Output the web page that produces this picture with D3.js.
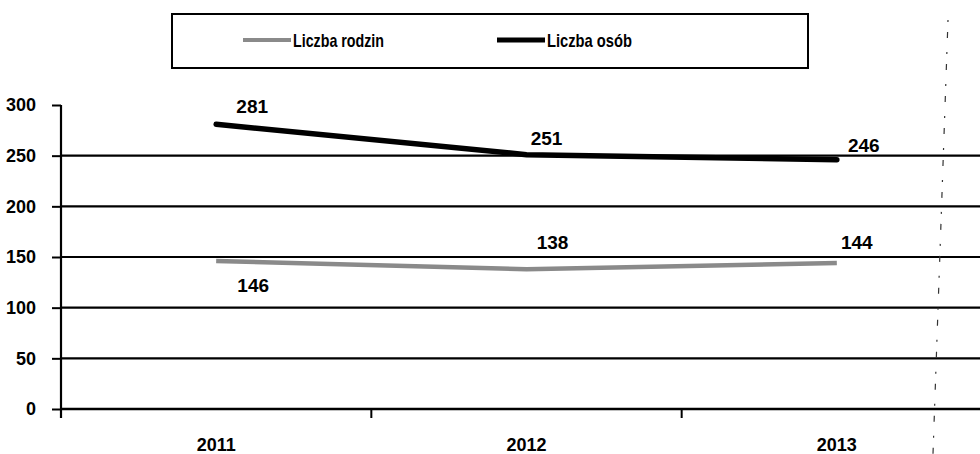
<!DOCTYPE html>
<html><head><meta charset="utf-8">
<script src="https://cdn.jsdelivr.net/npm/d3@7"></script>
<style>
body{margin:0;background:#fff;}
svg{display:block;font-family:"Liberation Sans",Arial,sans-serif;font-weight:bold;}
</style></head>
<body><svg id="chart" width="980" height="454"></svg>
<script>
const years = ["2011","2012","2013"];
const rodziny = [146,138,144];
const osoby = [281,251,246];
const yTicks = [0,50,100,150,200,250,300];
const seriesNames = ["Liczba rodzin","Liczba osób"];

// label placement (style only)
const rodzinyLabelOff = [[37,31],[26,-20],[20,-14]];
const osobyLabelOff = [[36,-11],[20,-10],[27,-8]];

const svg = d3.select("#chart");
const x = d3.scaleBand().domain(years).range([61,992]);
const y = d3.scaleLinear().domain([0,300]).range([409,105]);
const cx = d => x(d) + x.bandwidth()/2;
const FONT = "Liberation Sans, Arial, sans-serif";

// gridlines
svg.append("g").selectAll("line").data(yTicks.filter(t=>t>0 && t<300)).join("line")
  .attr("x1",61).attr("x2",980).attr("y1",d=>y(d)).attr("y2",d=>y(d))
  .attr("stroke","#000").attr("stroke-width",2.2);

// y axis
const ya = svg.append("g").attr("transform","translate(61,0)")
  .call(d3.axisLeft(y).tickValues(yTicks).tickSize(9).tickPadding(16));
ya.select(".domain").attr("stroke","#000").attr("stroke-width",2.2).attr("d","M0,105V418");
ya.selectAll(".tick line").attr("stroke","#000").attr("stroke-width",2);
ya.selectAll(".tick text").attr("font-size",18).attr("font-weight","bold").attr("fill","#000")
  .attr("font-family",FONT);

// x axis
const xa = svg.append("g").attr("transform","translate(0,409)")
  .call(d3.axisBottom(x).tickSize(0).tickPadding(29));
xa.select(".domain").attr("stroke","#000").attr("stroke-width",2.4).attr("d","M61,0H980");
xa.selectAll(".tick text").attr("font-size",18).attr("font-weight","bold").attr("fill","#000")
  .attr("font-family",FONT);
// category boundary ticks
svg.append("g").selectAll("line").data(years).join("line")
  .attr("x1",d=>x(d)).attr("x2",d=>x(d)).attr("y1",409).attr("y2",418)
  .attr("stroke","#000").attr("stroke-width",2);

// lines
const line = d3.line().x((d,i)=>cx(years[i])).y(d=>y(d));
svg.append("path").datum(rodziny).attr("d",line).attr("fill","none")
  .attr("stroke","#8a8a8a").attr("stroke-width",4.5);
svg.append("path").datum(osoby).attr("d",line).attr("fill","none")
  .attr("stroke","#000").attr("stroke-width",5.5).attr("stroke-linecap","round");

// labels
function labels(vals, offs){
  svg.append("g").selectAll("text").data(vals).join("text")
    .attr("x",(d,i)=>cx(years[i])+offs[i][0])
    .attr("y",(d,i)=>y(d)+offs[i][1])
    .attr("text-anchor","middle").attr("font-size",19).attr("fill","#000")
    .text(d=>d);
}
labels(osoby, osobyLabelOff);
labels(rodziny, rodzinyLabelOff);

// legend
const lg = svg.append("g");
lg.append("rect").attr("x",172).attr("y",14).attr("width",636).attr("height",54)
  .attr("fill","#fff").attr("stroke","#000").attr("stroke-width",2);
const items = [{name:seriesNames[0],x:243,color:"#8a8a8a",w:4,len:91},{name:seriesNames[1],x:497,color:"#000",w:5,len:85}];
items.forEach(it=>{
  lg.append("line").attr("x1",it.x).attr("x2",it.x+48).attr("y1",40).attr("y2",40)
    .attr("stroke",it.color).attr("stroke-width",it.w);
  lg.append("text").attr("x",it.x+50).attr("y",47).attr("font-size",19).attr("fill","#000")
    .attr("textLength",it.len).attr("lengthAdjust","spacingAndGlyphs").text(it.name);
});

// scan artifact dashed line at right
svg.append("line").attr("x1",948).attr("y1",20).attr("x2",933).attr("y2",454)
  .attr("stroke","#333").attr("stroke-width",1.2).attr("stroke-dasharray","2,10,6,14");
</script></body></html>
